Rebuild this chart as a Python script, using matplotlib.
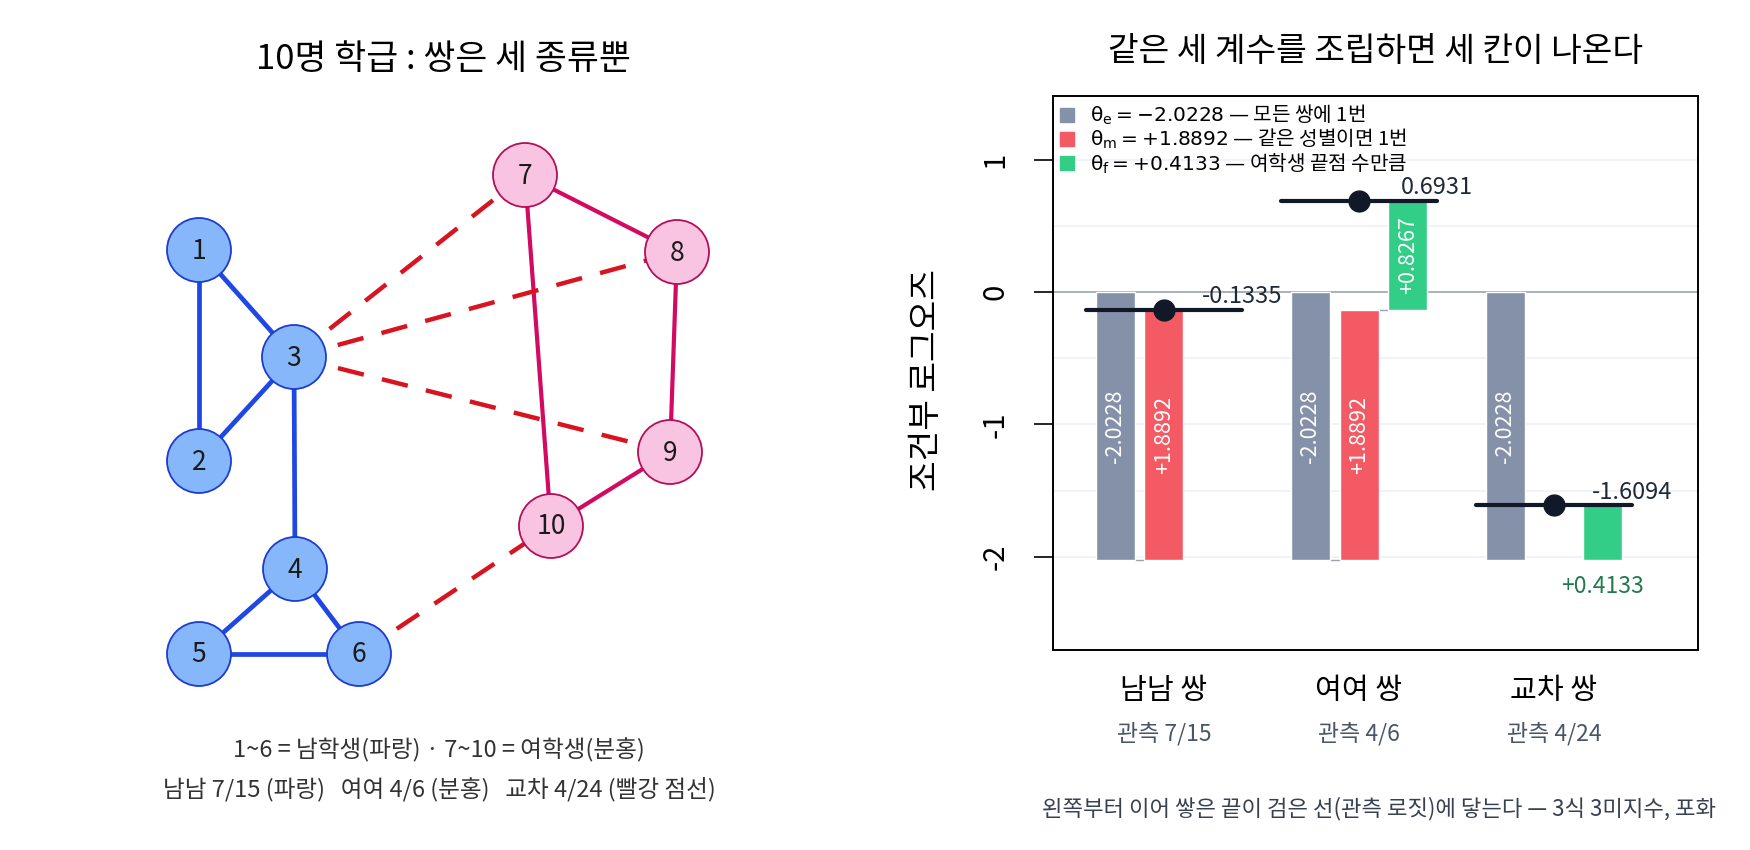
import numpy as np
import matplotlib
matplotlib.use('Agg')
import matplotlib.pyplot as plt
from matplotlib.patches import Circle
from matplotlib.lines import Line2D

plt.rcParams['font.family'] = ['Noto Sans CJK KR', 'DejaVu Sans']
plt.rcParams['axes.unicode_minus'] = False

# ---- left: class network ----
node_id = [1, 2, 3, 4, 5, 6, 7, 8, 9, 10]
node_x = [199, 199, 294, 295, 199, 359, 525, 677, 670, 551]
node_y = [250, 461, 357, 569, 654, 654, 175, 252, 452, 526]
male_edges = [(1, 2), (1, 3), (2, 3), (3, 4), (4, 5), (4, 6), (5, 6)]
female_edges = [(7, 8), (7, 10), (8, 9), (9, 10)]
cross_edges = [(3, 7), (3, 8), (3, 9), (6, 10)]

# ---- right: logit decomposition ----
pair_names = ['남남 쌍', '여여 쌍', '교차 쌍']
pair_obs = ['관측 7/15', '관측 4/6', '관측 4/24']
obs_logit = [-0.1335, 0.6931, -1.6094]
theta_e = -2.0228
theta_m = 1.8892
theta_f = 0.41334
same_sex = [1, 1, 0]
female_ends = [0, 2, 1]

c_gray = '#8591a9'
c_red = '#f35a63'
c_green = '#32cd87'

fig = plt.figure(figsize=(17.5, 8.5), dpi=100)

# network panel, data units = pixels
axn = fig.add_axes([0, 0, 785 / 1750, 1])
axn.set_xlim(0, 785)
axn.set_ylim(850, 0)
axn.axis('off')
pos = {n: (x, y) for n, x, y in zip(node_id, node_x, node_y)}
for a, b in male_edges:
    axn.plot([pos[a][0], pos[b][0]], [pos[a][1], pos[b][1]], color='#1f47e6', lw=3.4, zorder=1)
for a, b in female_edges:
    axn.plot([pos[a][0], pos[b][0]], [pos[a][1], pos[b][1]], color='#d20a62', lw=3.0, zorder=1)
for a, b in cross_edges:
    axn.plot([pos[a][0], pos[b][0]], [pos[a][1], pos[b][1]], color='#d7141f', lw=3.2,
             dashes=(6, 4.2), zorder=1)
for n in node_id:
    x, y = pos[n]
    if n <= 6:
        fc, ec = '#86b7fa', '#1c3bd0'
    else:
        fc, ec = '#f9c4e2', '#b50d57'
    axn.add_patch(Circle((x, y), 32, facecolor=fc, edgecolor=ec, lw=1.3, zorder=3))
    axn.text(x, y + 1, str(n), ha='center', va='center', fontsize=19, color='#1a1a1a', zorder=4)

fig.text(443 / 1750, 1 - 60 / 850, '10명 학급 : 쌍은 세 종류뿐', ha='center', va='center', fontsize=25)
fig.text(439 / 1750, 1 - 750 / 850, '1~6 = 남학생(파랑) · 7~10 = 여학생(분홍)',
         ha='center', va='center', fontsize=17, color='#333333')
fig.text(439 / 1750, 1 - 790 / 850, '남남 7/15 (파랑)   여여 4/6 (분홍)   교차 4/24 (빨강 점선)',
         ha='center', va='center', fontsize=17, color='#333333')

# bar panel
ax = fig.add_axes([1053 / 1750, 1 - 650 / 850, 645 / 1750, 554 / 850])
ax.set_xlim(0.431, 3.738)
ax.set_ylim(-2.706, 1.484)
for g in [-2, -1.5, -1, -0.5, 0.5, 1]:
    ax.axhline(g, color='#eef2f7', lw=1.2, zorder=0)
ax.axhline(0, color='#9ca3af', lw=1.2, zorder=1)

xs = np.arange(1, 4)
off = 0.25
w = 0.2
for i, x in enumerate(xs):
    level = theta_e
    ax.bar(x - off, theta_e, bottom=0, width=w, color=c_gray, edgecolor='white', lw=1, zorder=2)
    ax.text(x - off, theta_e / 2, f'{theta_e:+.4f}', rotation=90, ha='center', va='center',
            color='white', fontsize=15.5, zorder=4)
    if same_sex[i]:
        ax.plot([x - off + w / 2, x - w / 2], [level, level], color='#9ca3af', lw=1, zorder=1)
        ax.bar(x, theta_m, bottom=level, width=w, color=c_red, edgecolor='white', lw=1, zorder=2)
        ax.text(x, level + theta_m / 2, f'{theta_m:+.4f}', rotation=90, ha='center', va='center',
                color='white', fontsize=15.5, zorder=4)
        level += theta_m
    if female_ends[i]:
        h = female_ends[i] * theta_f
        if same_sex[i]:
            ax.plot([x + w / 2, x + off - w / 2], [level, level], color='#9ca3af', lw=1, zorder=1)
        ax.bar(x + off, h, bottom=level, width=w, color=c_green, edgecolor='white', lw=1, zorder=2)
        if h > 0.6:
            ax.text(x + off, level + h / 2, f'{h:+.4f}', rotation=90, ha='center', va='center',
                    color='white', fontsize=15.5, zorder=4)
        else:
            ax.annotate(f'{h:+.4f}', (x + off, level), xytext=(0, -11), textcoords='offset points',
                        ha='center', va='top', color='#23794f', fontsize=16.5)
    ax.plot([x - 0.4, x + 0.4], [obs_logit[i], obs_logit[i]], color='#111827', lw=3, zorder=5,
            solid_capstyle='round')
    ax.plot(x, obs_logit[i], 'o', color='#111827', markersize=15, zorder=6)
    ax.annotate(f'{obs_logit[i]:.4f}', (x + 0.4, obs_logit[i]), xytext=(0, 1),
                textcoords='offset points', ha='center', va='bottom', color='#1f2937', fontsize=17,
                zorder=6)
    ax.text(x, -0.074, pair_names[i], transform=ax.get_xaxis_transform(), ha='center',
            va='center', fontsize=21)
    ax.text(x, -0.152, pair_obs[i], transform=ax.get_xaxis_transform(), ha='center',
            va='center', fontsize=16.5, color='#4a5568')

ax.set_xticks([])
ax.set_yticks([-2, -1, 0, 1])
ax.set_yticklabels(['-2', '-1', '0', '1'], rotation=90, va='center')
ax.tick_params(axis='y', length=13.7, width=1.2, pad=17, labelsize=21)
for s in ax.spines.values():
    s.set_linewidth(1.4)
ax.set_ylabel('조건부 로그오즈', fontsize=24)
ax.yaxis.set_label_coords(-0.169, 0.487)

handles = [Line2D([], [], marker='s', ls='none', color=c, markersize=10) for c in (c_gray, c_red, c_green)]
labels = [r'$\mathrm{\theta_e = -2.0228}$ — 모든 쌍에 1번',
          r'$\mathrm{\theta_m = +1.8892}$ — 같은 성별이면 1번',
          r'$\mathrm{\theta_f = +0.4133}$ — 여학생 끝점 수만큼']
ax.legend(handles, labels, loc='upper left', bbox_to_anchor=(0, 1), frameon=False, fontsize=14.5,
          borderaxespad=0.15, borderpad=0.2, handlelength=0.7, handletextpad=0.8, labelspacing=-0.03)

fig.text(1375 / 1750, 1 - 51 / 850, '같은 세 계수를 조립하면 세 칸이 나온다', ha='center', va='center', fontsize=24)
fig.text(1716 / 1750, 1 - 809 / 850, '왼쪽부터 이어 쌓은 끝이 검은 선(관측 로짓)에 닿는다 — 3식 3미지수, 포화',
         ha='right', va='center', fontsize=16, color='#374151')

fig.savefig('out.png', dpi=100)
